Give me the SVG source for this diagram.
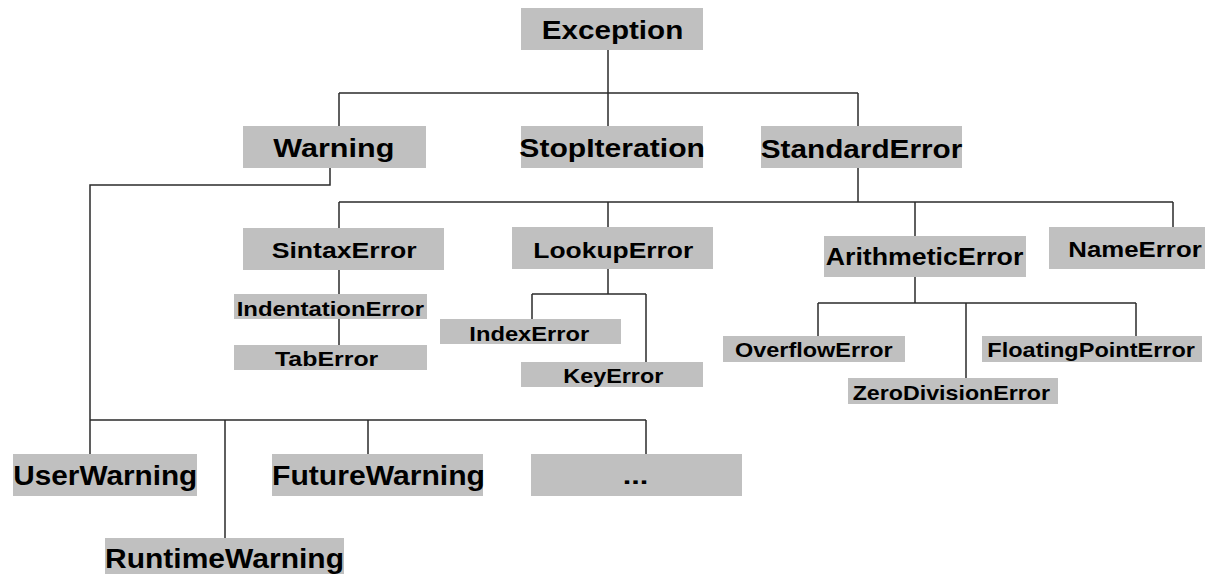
<svg xmlns="http://www.w3.org/2000/svg" width="1205" height="574" viewBox="0 0 1205 574">
<style>
.box{fill:#c0c0c0}
.t{font-family:"Liberation Sans",Arial,sans-serif;font-weight:bold;fill:#000}
.c{fill:none;stroke:#2b2b2b;stroke-width:1.5}
</style>
<rect width="1205" height="574" fill="#fff"/>
<g id="connectors" class="c">
<path d="M608,50V126M339,93H858M339,93V126M858,93V126"/>
<path d="M330,168V185H90V454M90,420H646M225,420V538M368,420V454M646,420V454"/>
<path d="M858,168V202M339,202H1173M339,202V228M608,202V227M915,202V236M1173,202V227"/>
<path d="M339,270V294M339,319V345"/>
<path d="M608,269V294M532,294H646M532,294V319M646,294V362"/>
<path d="M915,277V303M818,303H1136M818,303V336M966,303V378M1136,303V336"/>
</g>
<g id="Exception"><rect class="box" x="521" y="8" width="182" height="42"/><text class="t" x="541.7" y="39.3" font-size="26" textLength="141.6" lengthAdjust="spacingAndGlyphs">Exception</text></g>
<g id="Warning"><rect class="box" x="243" y="126" width="183" height="42"/><text class="t" x="273.3" y="157.3" font-size="26" textLength="121" lengthAdjust="spacingAndGlyphs">Warning</text></g>
<g id="StopIteration"><rect class="box" x="521" y="126" width="182" height="42"/><text class="t" x="519.3" y="157.3" font-size="26" textLength="185.7" lengthAdjust="spacingAndGlyphs">StopIteration</text></g>
<g id="StandardError"><rect class="box" x="761" y="126" width="201" height="42"/><text class="t" x="760.7" y="158" font-size="26" textLength="201.6" lengthAdjust="spacingAndGlyphs">StandardError</text></g>
<g id="SintaxError"><rect class="box" x="243" y="228" width="201" height="42"/><text class="t" x="271.7" y="258.3" font-size="22" textLength="145" lengthAdjust="spacingAndGlyphs">SintaxError</text></g>
<g id="LookupError"><rect class="box" x="512" y="227" width="201" height="42"/><text class="t" x="533.3" y="258.3" font-size="22" textLength="160" lengthAdjust="spacingAndGlyphs">LookupError</text></g>
<g id="ArithmeticError"><rect class="box" x="824" y="236" width="202" height="41"/><text class="t" x="825.7" y="265" font-size="23" textLength="197.6" lengthAdjust="spacingAndGlyphs">ArithmeticError</text></g>
<g id="NameError"><rect class="box" x="1049" y="227" width="156" height="42"/><text class="t" x="1068.3" y="256.7" font-size="22" textLength="133.4" lengthAdjust="spacingAndGlyphs">NameError</text></g>
<g id="IndentationError"><rect class="box" x="234" y="294" width="193" height="25"/><text class="t" x="236.7" y="315.5" font-size="20" textLength="187.3" lengthAdjust="spacingAndGlyphs">IndentationError</text></g>
<g id="TabError"><rect class="box" x="234" y="345" width="193" height="25"/><text class="t" x="275" y="365.5" font-size="21" textLength="103.3" lengthAdjust="spacingAndGlyphs">TabError</text></g>
<g id="IndexError"><rect class="box" x="440" y="319" width="181" height="25"/><text class="t" x="469.3" y="341.3" font-size="21" textLength="120" lengthAdjust="spacingAndGlyphs">IndexError</text></g>
<g id="KeyError"><rect class="box" x="521" y="362" width="182" height="25"/><text class="t" x="563.3" y="382.7" font-size="21" textLength="100" lengthAdjust="spacingAndGlyphs">KeyError</text></g>
<g id="OverflowError"><rect class="box" x="723" y="336" width="182" height="26"/><text class="t" x="735" y="357" font-size="21" textLength="157.7" lengthAdjust="spacingAndGlyphs">OverflowError</text></g>
<g id="FloatingPointError"><rect class="box" x="982" y="336" width="220" height="26"/><text class="t" x="987.3" y="357.3" font-size="21" textLength="207.7" lengthAdjust="spacingAndGlyphs">FloatingPointError</text></g>
<g id="ZeroDivisionError"><rect class="box" x="848" y="378" width="210" height="26"/><text class="t" x="852.7" y="400" font-size="21" textLength="197.3" lengthAdjust="spacingAndGlyphs">ZeroDivisionError</text></g>
<g id="UserWarning"><rect class="box" x="13" y="454" width="184" height="42"/><text class="t" x="13.3" y="485" font-size="28" textLength="184" lengthAdjust="spacingAndGlyphs">UserWarning</text></g>
<g id="FutureWarning"><rect class="box" x="272" y="454" width="211" height="42"/><text class="t" x="272" y="485" font-size="28" textLength="213" lengthAdjust="spacingAndGlyphs">FutureWarning</text></g>
<g id="Ellipsis"><rect class="box" x="531" y="454" width="211" height="42"/><text class="t" x="622.7" y="484" font-size="24" textLength="25.6" lengthAdjust="spacingAndGlyphs">...</text></g>
<g id="RuntimeWarning"><rect class="box" x="105" y="538" width="239" height="36"/><text class="t" x="105" y="568.3" font-size="27" textLength="239" lengthAdjust="spacingAndGlyphs">RuntimeWarning</text></g>
</svg>
